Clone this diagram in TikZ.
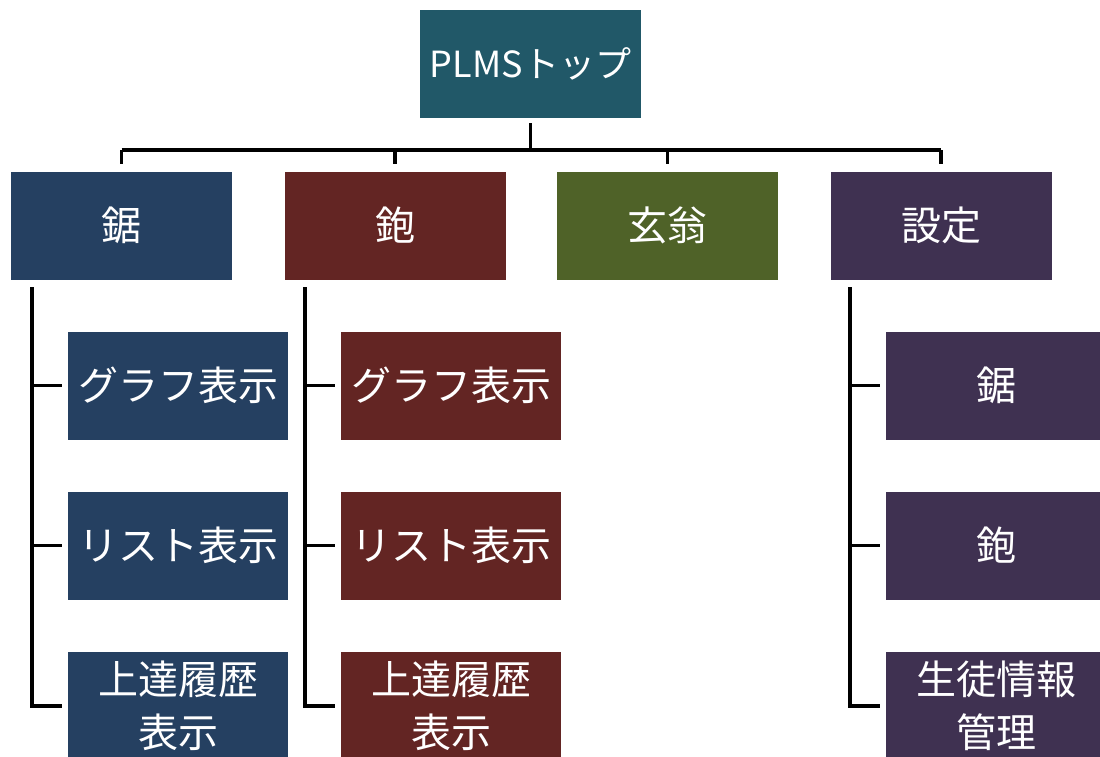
\documentclass[tikz,border=0pt]{standalone}
\usepackage{fontspec}
\setmainfont{Noto Sans CJK JP}
\definecolor{cteal}{HTML}{215868}
\definecolor{cblue}{HTML}{254061}
\definecolor{cred}{HTML}{632523}
\definecolor{cgreen}{HTML}{4F6228}
\definecolor{cpurple}{HTML}{3F3151}
\begin{document}
\begin{tikzpicture}[x=1pt,y=-1pt,
  box/.style={minimum width=221pt,minimum height=108pt,inner sep=0pt,text=white,align=center,
    font=\fontsize{40}{53}\selectfont},
  conn/.style={line width=3.5pt,draw=black,line join=miter}]
\useasboundingbox (0,0) rectangle (1100,756);
\clip (0,0) rectangle (1100,756);
\node[box,fill=cteal,font=\fontsize{36}{44}\selectfont] (top) at (530.5,64) {PLMSトップ};
\node[box,fill=cblue] (saw) at (121.5,225.5) {鋸};
\node[box,fill=cred] (plane) at (395,225.5) {鉋};
\node[box,fill=cgreen] (gen) at (667.5,225.5) {玄翁};
\node[box,fill=cpurple] (set) at (941,225.5) {設定};
% children
\node[box,fill=cblue,minimum width=220pt] (s1) at (178,385.5) {グラフ表示};
\node[box,fill=cblue,minimum width=220pt] (s2) at (178,545.5) {リスト表示};
\node[box,fill=cblue,minimum width=220pt] (s3) at (178,706) {上達履歴\\表示};
\node[box,fill=cred,minimum width=220pt] (p1) at (451,385.5) {グラフ表示};
\node[box,fill=cred,minimum width=220pt] (p2) at (451,545.5) {リスト表示};
\node[box,fill=cred,minimum width=220pt] (p3) at (451,706) {上達履歴\\表示};
\node[box,fill=cpurple,minimum width=220pt] (t1) at (996,385.5) {鋸};
\node[box,fill=cpurple,minimum width=220pt] (t2) at (996,545.5) {鉋};
\node[box,fill=cpurple,minimum width=220pt] (t3) at (996,706) {生徒情報\\管理};
% bus
\coordinate (bus) at (0,150);
\draw[conn] ([yshift=-5pt]top.south) -- (top.south |- bus);
\draw[conn] (saw.north |- bus) -- (set.north |- bus);
\foreach \n in {saw,plane,gen,set}{
  \draw[conn] (\n.north |- bus) -- ([yshift=7pt]\n.north);
}
% brackets
\coordinate (sawL) at (32,287);
\coordinate (planeL) at (305,287);
\coordinate (setL) at (850,287);
\draw[conn] (sawL) |- ([xshift=-6pt]s3.west);
\draw[conn] (sawL |- s1.west) -- ([xshift=-6pt]s1.west);
\draw[conn] (sawL |- s2.west) -- ([xshift=-6pt]s2.west);
\draw[conn] (planeL) |- ([xshift=-6pt]p3.west);
\draw[conn] (planeL |- p1.west) -- ([xshift=-6pt]p1.west);
\draw[conn] (planeL |- p2.west) -- ([xshift=-6pt]p2.west);
\draw[conn] (setL) |- ([xshift=-6pt]t3.west);
\draw[conn] (setL |- t1.west) -- ([xshift=-6pt]t1.west);
\draw[conn] (setL |- t2.west) -- ([xshift=-6pt]t2.west);
\end{tikzpicture}
\end{document}
